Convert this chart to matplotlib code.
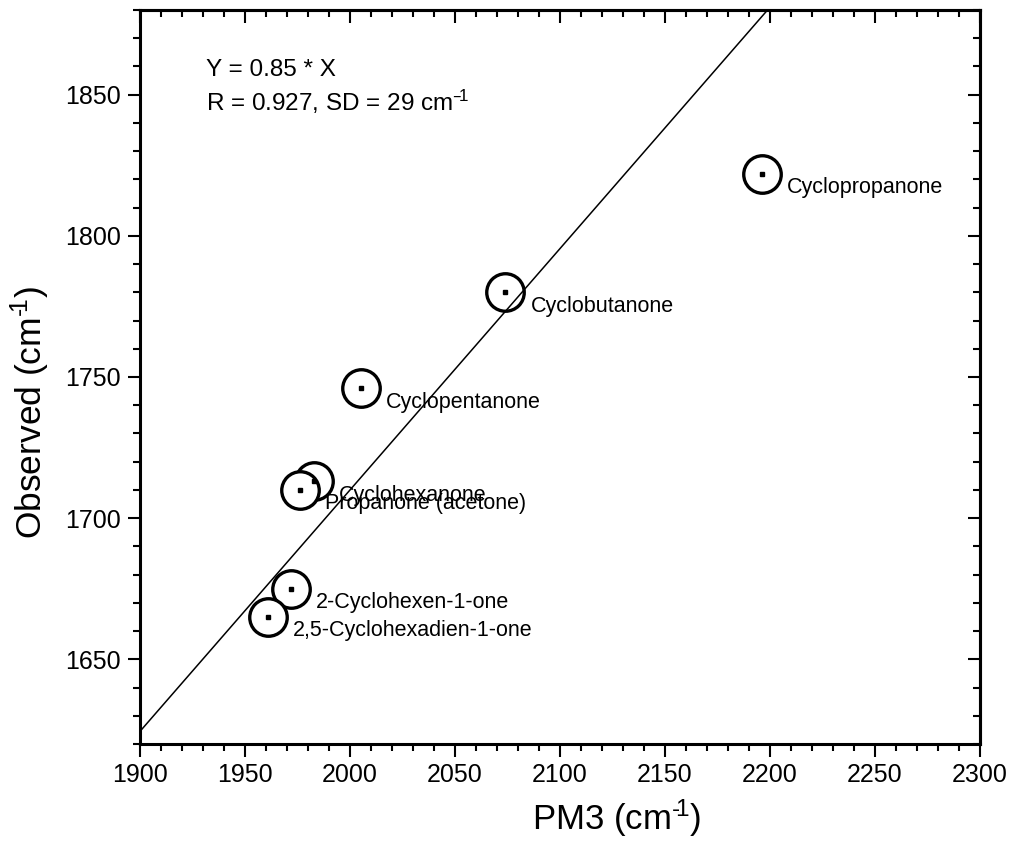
import numpy as np
import matplotlib
matplotlib.use('Agg')
import matplotlib.pyplot as plt
from matplotlib.ticker import MultipleLocator

plt.rcParams['font.family'] = ['Liberation Sans', 'DejaVu Sans']
plt.rcParams['mathtext.default'] = 'regular'

# carbonyl stretching frequencies, cm-1
compounds = ['Cyclopropanone', 'Cyclobutanone', 'Cyclopentanone', 'Cyclohexanone',
             'Propanone (acetone)', '2-Cyclohexen-1-one', '2,5-Cyclohexadien-1-one']
pm3 = [2196, 2074, 2005, 1983, 1976, 1972, 1961]
observed = [1822, 1780, 1746, 1713, 1710, 1675, 1665]
slope = 0.855
fit_x = [1900, 2300]

fig = plt.figure(figsize=(10.14, 8.51), dpi=100)
ax = fig.add_axes([0.1381, 0.1257, 0.8284, 0.8626])

fit_y = [slope * v for v in fit_x]
ax.plot(fit_x, fit_y, color='black', lw=1.1, zorder=4)

ax.plot(pm3, observed, 'o', ms=27, mfc='white', mec='black', mew=2.4, zorder=3)
ax.plot(pm3, observed, 's', ms=2.2, color='black', zorder=5)

for name, x, y in zip(compounds, pm3, observed):
    ax.annotate(name, (x, y), xytext=(18, -14), textcoords='offset points',
                ha='left', va='baseline', fontsize=15.5, zorder=6)

ax.text(0.078, 0.91, 'Y = 0.85 * X', transform=ax.transAxes, fontsize=17.5,
        va='baseline', ha='left')
ax.text(0.078, 0.862, 'R = 0.927, SD = 29 cm$^{\u2013\!1}$', transform=ax.transAxes,
        fontsize=17.5, va='baseline', ha='left')

ax.set_xlim(1900, 2300)
ax.set_ylim(1620, 1880)
ax.xaxis.set_major_locator(MultipleLocator(50))
ax.xaxis.set_minor_locator(MultipleLocator(10))
ax.yaxis.set_major_locator(MultipleLocator(50))
ax.yaxis.set_minor_locator(MultipleLocator(10))
ax.set_yticks([1650, 1700, 1750, 1800, 1850])

for sp in ax.spines.values():
    sp.set_linewidth(2.2)
ax.tick_params(which='both', direction='out', width=1.5, labelsize=18, pad=5)
ax.tick_params(which='major', length=9)
ax.tick_params(which='minor', length=5)

# mirrored ticks pointing inwards on top and right
top = ax.secondary_xaxis('top')
top.xaxis.set_major_locator(MultipleLocator(50))
top.xaxis.set_minor_locator(MultipleLocator(10))
top.tick_params(which='both', direction='in', width=1.5, labeltop=False)
top.tick_params(which='major', length=9)
top.tick_params(which='minor', length=5)
right = ax.secondary_yaxis('right')
right.yaxis.set_major_locator(MultipleLocator(50))
right.yaxis.set_minor_locator(MultipleLocator(10))
right.tick_params(which='both', direction='in', width=1.5, labelright=False)
right.tick_params(which='major', length=9)
right.tick_params(which='minor', length=5)
for sec in (top, right):
    for sp in sec.spines.values():
        sp.set_linewidth(2.2)

ax.set_xlabel('PM3 (cm$^{\u2010\!1}$)', fontsize=25, va='center')
ax.xaxis.set_label_coords(0.568, -0.101)
ax.set_ylabel('Observed (cm$^{\u2010\!1}$)', fontsize=25.5, va='center')
ax.yaxis.set_label_coords(-0.131, 0.451)

fig.savefig('out.png', dpi=100)
